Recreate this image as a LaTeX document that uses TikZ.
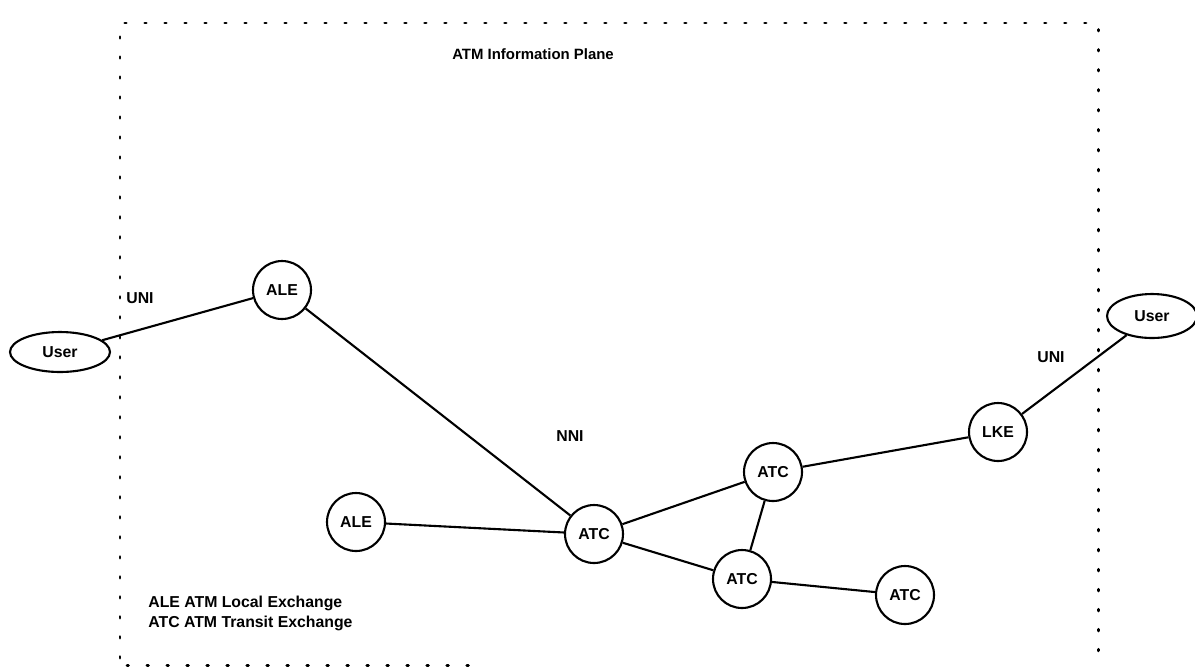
\documentclass[tikz,border=0pt]{standalone}
\usepackage{fontspec}
\setmainfont{Liberation Sans}
\usetikzlibrary{shapes.geometric}
\begin{document}
\begin{tikzpicture}[x=0.02cm,y=-0.02cm,
  font=\bfseries\fontsize{9}{10}\selectfont,
  exch/.style={circle,draw,line width=1.2pt,minimum size=1.16cm,inner sep=0pt},
  user/.style={ellipse,draw,line width=1.2pt,inner sep=0pt},
  link/.style={line width=1.2pt},
  frame/.style={line width=1.7pt,line cap=round,dash pattern=on 0.8pt off 10.58pt},
  lbl/.style={inner sep=0pt}]
\useasboundingbox (0,0) rectangle (1195,667);

% dotted boundary of the information plane
\draw[frame] (120,658) -- (120,23) -- (1098,23) -- (1098,667);
\draw[frame] (127,665) -- (470,665);

\node[lbl,font=\bfseries\fontsize{8.5}{10}\selectfont] (title) at (533,54) {ATM Information Plane};

% exchanges and users
\node[user,minimum width=2cm,minimum height=0.8cm] (userL) at (60,352) {User};
\node[user,minimum width=1.8cm,minimum height=0.88cm] (userR) at (1152,316) {User};
\node[exch] (aleT) at (282,290) {ALE};
\node[exch] (aleB) at (356,522) {ALE};
\node[exch] (atcC) at (594,534) {ATC};
\node[exch] (atcU) at (773,472) {ATC};
\node[exch] (atcL) at (742,579) {ATC};
\node[exch] (atcR) at (905,595) {ATC};
\node[exch] (lke) at (998,432) {LKE};

% links
\draw[link] (userL) -- (aleT);
\draw[link] (aleT) -- (atcC);
\draw[link] (aleB) -- (atcC);
\draw[link] (atcC) -- (atcU);
\draw[link] (atcC) -- (atcL);
\draw[link] (atcU) -- (atcL);
\draw[link] (atcL) -- (atcR);
\draw[link] (atcU) -- (lke);
\draw[link] (lke) -- (userR);

% interface labels
\node[lbl] (uniL) at (140,298) {UNI};
\node[lbl] (uniR) at (1051,357) {UNI};
\node[lbl] (nni) at (570,436) {NNI};

% legend
\node[lbl,anchor=west] (leg1) at (148,603) {ALE ATM Local Exchange};
\node[lbl,anchor=west] (leg2) at (148,623) {ATC ATM Transit Exchange};
\end{tikzpicture}
\end{document}
